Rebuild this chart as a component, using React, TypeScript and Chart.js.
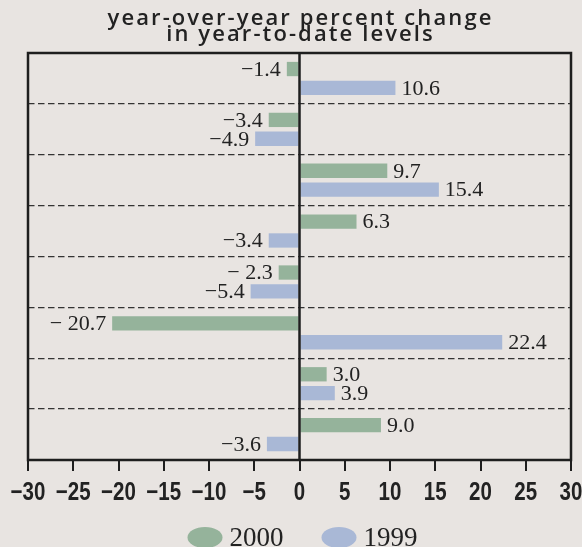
import React, { useEffect, useRef } from 'react';
import { Chart, registerables } from 'chart.js';

Chart.register(...registerables);

const categories = ['1', '2', '3', '4', '5', '6', '7', '8'];
const seriesNames = ['2000', '1999'];
const values2000 = [-1.4, -3.4, 9.7, 6.3, -2.3, -20.7, 3.0, 9.0];
const values1999 = [10.6, -4.9, 15.4, -3.4, -5.4, 22.4, 3.9, -3.6];
const labels2000 = ['−1.4', '−3.4', '9.7', '6.3', '− 2.3', '− 20.7', '3.0', '9.0'];
const labels1999 = ['10.6', '−4.9', '15.4', '−3.4', '−5.4', '22.4', '3.9', '−3.6'];
const titleLines = ['year-over-year percent change', 'in year-to-date levels'];
const xMin = -30;
const xMax = 30;
const xStep = 5;

const GREEN = '#95b39b';
const BLUE = '#a9b8d6';
const INK = '#1e1e1e';
const BG = '#e8e4e1';
const SERIF = '"Liberation Serif", "DejaVu Serif", serif';
const SANS = '"Liberation Sans", Arial, sans-serif';

const fmtTick = (v: number) => (v < 0 ? '−' + Math.abs(v) : String(v));

const bgPlugin = {
  id: 'bg',
  beforeDraw(chart: any) {
    const { ctx, width, height } = chart;
    ctx.save();
    ctx.fillStyle = BG;
    ctx.fillRect(0, 0, width, height);
    ctx.restore();
  },
};

const titlePlugin = {
  id: 'customTitle',
  afterDraw(chart: any) {
    const { ctx, chartArea } = chart;
    const cx = (chartArea.left + chartArea.right) / 2;
    ctx.save();
    ctx.fillStyle = '#222';
    ctx.font = '600 22px "Open Sans", "DejaVu Sans", sans-serif';
    try { (ctx as any).letterSpacing = '2.1px'; } catch (e) {}
    ctx.textAlign = 'center';
    ctx.textBaseline = 'alphabetic';
    const baselines = [25, 41];
    titleLines.forEach((t, i) => ctx.fillText(t, cx + 1, baselines[i]));
    try { (ctx as any).letterSpacing = '0px'; } catch (e) {}
    ctx.restore();
  },
};

const xTickLabelPlugin = {
  id: 'xTickLabels',
  afterDraw(chart: any) {
    const { ctx } = chart;
    const scale = chart.scales.x;
    ctx.save();
    ctx.fillStyle = '#222';
    ctx.font = 'bold 25px ' + SANS;
    ctx.textAlign = 'center';
    ctx.textBaseline = 'alphabetic';
    scale.ticks.forEach((t: any) => {
      const x = scale.getPixelForValue(t.value);
      ctx.save();
      ctx.translate(x, 500);
      ctx.scale(0.82, 1);
      ctx.fillText(fmtTick(t.value), 0, 0);
      ctx.restore();
    });
    ctx.restore();
  },
};

const framePlugin = {
  id: 'frame',
  afterDatasetsDraw(chart: any) {
    const { ctx, chartArea } = chart;
    const { left, right, top, bottom } = chartArea;
    const x0 = chart.scales.x.getPixelForValue(0);
    ctx.save();
    ctx.strokeStyle = INK;
    ctx.lineWidth = 2.5;
    ctx.setLineDash([]);
    ctx.beginPath();
    ctx.moveTo(left, bottom);
    ctx.lineTo(left, top);
    ctx.lineTo(right, top);
    ctx.lineTo(right, bottom);
    ctx.lineTo(left, bottom);
    ctx.closePath();
    ctx.stroke();
    ctx.beginPath();
    ctx.moveTo(x0, top);
    ctx.lineTo(x0, bottom);
    ctx.stroke();
    ctx.restore();
  },
};

const valueLabelPlugin = {
  id: 'valueLabels',
  afterDatasetsDraw(chart: any) {
    const { ctx } = chart;
    const texts = [labels2000, labels1999];
    ctx.save();
    ctx.font = '22px ' + SERIF;
    ctx.fillStyle = '#222';
    ctx.textBaseline = 'middle';
    chart.data.datasets.forEach((ds: any, di: number) => {
      const meta = chart.getDatasetMeta(di);
      meta.data.forEach((bar: any, i: number) => {
        const v = ds.data[i];
        const t = texts[di][i];
        if (v >= 0) {
          ctx.textAlign = 'left';
          ctx.fillText(t, bar.x + 6, bar.y + 1);
        } else {
          ctx.textAlign = 'right';
          ctx.fillText(t, bar.x - 6, bar.y + 1);
        }
      });
    });
    ctx.restore();
  },
};

const legendPlugin = {
  id: 'customLegend',
  afterDraw(chart: any) {
    const { ctx, chartArea } = chart;
    const cx = (chartArea.left + chartArea.right) / 2;
    const cy = 537.5;
    const rx = 17.5;
    const ry = 10.5;
    const gapText = 7;
    const gapItem = 38;
    ctx.save();
    ctx.font = '27px ' + SERIF;
    const items = chart.data.datasets.map((ds: any) => ({
      label: ds.label,
      color: ds.backgroundColor,
      w: ctx.measureText(ds.label).width,
    }));
    let total = 0;
    items.forEach((it: any, i: number) => {
      total += rx * 2 + gapText + it.w + (i > 0 ? gapItem : 0);
    });
    let x = cx - total / 2 + 3;
    items.forEach((it: any) => {
      ctx.fillStyle = it.color;
      ctx.beginPath();
      ctx.ellipse(x + rx, cy, rx, ry, 0, 0, Math.PI * 2);
      ctx.fill();
      ctx.fillStyle = '#222';
      ctx.textAlign = 'left';
      ctx.textBaseline = 'middle';
      ctx.fillText(it.label, x + rx * 2 + gapText, cy + 1);
      x += rx * 2 + gapText + it.w + gapItem;
    });
    ctx.restore();
  },
};

export default function App() {
  const canvasRef = useRef<HTMLCanvasElement | null>(null);

  useEffect(() => {
    document.body.style.margin = '0';
    document.body.style.background = BG;
    const canvas = canvasRef.current;
    if (!canvas) return;
    const chart = new Chart(canvas, {
      type: 'bar',
      data: {
        labels: categories,
        datasets: [
          {
            label: seriesNames[0],
            data: values2000,
            backgroundColor: GREEN,
            borderWidth: 0,
            categoryPercentage: 0.74,
            barPercentage: 0.76,
          },
          {
            label: seriesNames[1],
            data: values1999,
            backgroundColor: BLUE,
            borderWidth: 0,
            categoryPercentage: 0.74,
            barPercentage: 0.76,
          },
        ],
      },
      options: {
        indexAxis: 'y',
        responsive: false,
        animation: false,
        devicePixelRatio: 1,
        layout: { padding: { top: 53, left: 28, right: 11, bottom: 0 } },
        plugins: {
          legend: { display: false },
          title: { display: false },
          tooltip: { enabled: false },
        },
        scales: {
          x: {
            type: 'linear',
            position: 'bottom',
            min: xMin,
            max: xMax,
            ticks: {
              stepSize: xStep,
              display: false,
              autoSkip: false,
              maxRotation: 0,
              minRotation: 0,
            },
            grid: {
              drawOnChartArea: false,
              drawTicks: true,
              tickLength: 11,
              color: INK,
              lineWidth: 2,
            },
            border: { display: false },
            afterFit: (scale: any) => {
              scale.height = 87;
              scale.paddingLeft = 0;
              scale.paddingRight = 0;
            },
          },
          y: {
            type: 'category',
            ticks: { display: false },
            grid: {
              drawTicks: false,
              color: '#333',
              lineWidth: 1.3,
              offset: true,
            },
            border: { display: false, dash: [6.5, 3.5] },
            afterFit: (scale: any) => {
              scale.width = 0;
            },
          },
        },
      },
      plugins: [bgPlugin, valueLabelPlugin, framePlugin, xTickLabelPlugin, titlePlugin, legendPlugin],
    } as any);
    return () => chart.destroy();
  }, []);

  return (
    <div style={{ width: 582, height: 547, background: BG }}>
      <canvas ref={canvasRef} width={582} height={547} style={{ display: 'block' }} />
    </div>
  );
}
